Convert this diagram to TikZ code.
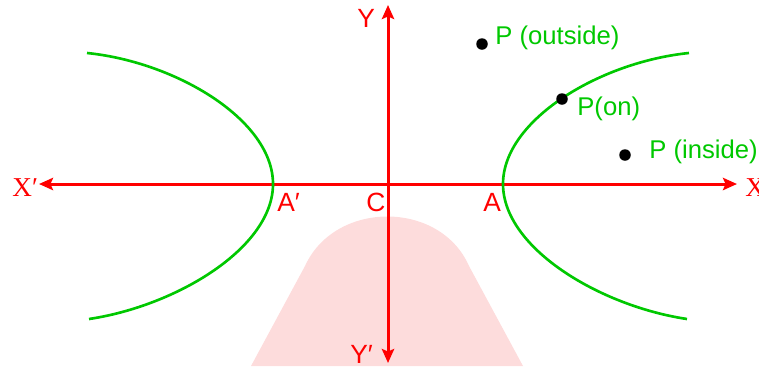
\documentclass[tikz,border=0pt]{standalone}
\usepackage{fontspec}
\setmainfont{Liberation Sans}
\newfontfamily\serifx{Liberation Serif}
\usetikzlibrary{arrows.meta}
\definecolor{axisred}{RGB}{255,0,0}
\definecolor{curvegreen}{RGB}{0,200,0}
\definecolor{wmpink}{RGB}{253,220,220}
\begin{document}
\begin{tikzpicture}[
    x=0.02cm, y=-0.02cm,
    axis/.style={draw=axisred, line width=1.7pt, {Stealth[length=8pt,width=7pt,inset=1.5pt]}-{Stealth[length=8pt,width=7pt,inset=1.5pt]}},
    branch/.style={draw=curvegreen, line width=1.5pt},
    lbl/.style={text=axisred, font=\fontsize{15}{17}\selectfont, inner sep=0pt, anchor=base west},
    xlbl/.style={lbl, font=\serifx\fontsize{15.5}{17}\selectfont},
    plbl/.style={lbl, text=curvegreen, font=\fontsize{14.6}{17}\selectfont},
    dot/.style={circle, fill=black, inner sep=0pt, minimum size=0.23cm},
  ]
    \useasboundingbox (0,0) rectangle (759,366);
    % === watermark ===
    \fill[wmpink] (251,366) -- (305,266) .. controls (335,200) and (440,200) .. (469,266)
      -- (523,366) -- cycle;

    % === axes ===
    \coordinate (xl) at (39,184);
    \coordinate (xr) at (737,184);
    \coordinate (yt) at (388,5);
    \coordinate (yb) at (388,363);
    \draw[axis] (xl) -- (xr);
    \draw[axis] (yb) -- (yt);

    % === hyperbola branches ===
    \coordinate (A) at (503,184);
    \coordinate (A') at (273,184);
    \draw[branch] (689,53) .. controls (600,62) and (503,120) .. (A)
      .. controls (503,248) and (600,306) .. (687,319);
    \draw[branch] (87,53) .. controls (176,62) and (273,120) .. (A')
      .. controls (273,248) and (176,306) .. (89,319);

    % === axis labels ===
    \node[xlbl] (Xl) at (12,196) {X′};
    \node[xlbl] (Xr) at (745,196) {X};
    \node[lbl] (Yl) at (357,27) {Y};
    \node[lbl] (Ybl) at (350,363) {Y′};
    \node[lbl] (Al) at (277,211) {A′};
    \node[lbl] (Cl) at (366,211) {C};
    \node[lbl] (Arl) at (483,211) {A};

    % === points ===
    \node[dot] (Pout) at (482,44) {};
    \node[dot] (Pon) at (562,99) {};
    \node[dot] (Pin) at (625,155) {};
    \node[plbl] (Poutl) at (495,44) {P (outside)};
    \node[plbl] (Ponl) at (577,115) {P(on)};
    \node[plbl] (Pinl) at (649,158) {P (inside)};
  \end{tikzpicture}
\end{document}
